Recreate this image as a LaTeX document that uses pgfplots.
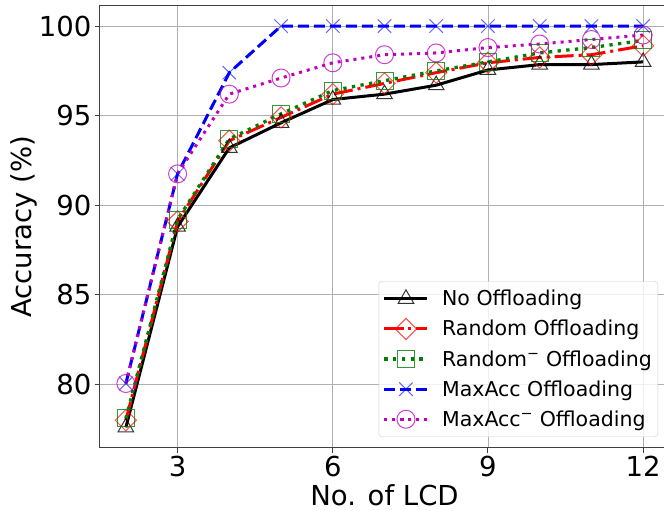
\documentclass[border=0pt]{standalone}
\usepackage{fontspec}
\setmainfont{DejaVu Sans}
\usepackage{pgfplots}
\pgfplotsset{compat=1.18}
\definecolor{mplgreen}{RGB}{0,128,0}
\definecolor{mplmag}{RGB}{191,0,191}
\definecolor{gridgray}{RGB}{176,176,176}

\begin{document}
\begin{tikzpicture}
\begin{axis}[
scale only axis,
width=569pt, height=442pt,
xmin=1.5, xmax=12.5,
ymin=76.45, ymax=101.12,
xtick={3,6,9,12},
ytick={80,85,90,95,100},
grid=major,
grid style={color=gridgray, line width=0.9pt},
axis line style={black!75, line width=1pt},
tick style={black!75, line width=1pt},
major tick length=5pt,
tick align=outside,
xtick pos=bottom, ytick pos=left,
/pgf/number format/assume math mode=true,
ticklabel style={font=\fontsize{27.5}{30}\selectfont},
xlabel={No. of LCD},
ylabel={Accuracy (\%)},
label style={font=\fontsize{27.5}{30}\selectfont},
xlabel style={at={(axis description cs:0.5,-0.129)}, anchor=base},
ylabel style={at={(axis description cs:-0.1195,0.5)}, anchor=base},
legend style={at={(axis description cs:0.9807,0.0249)}, anchor=south east,
  draw=black!20, rounded corners=3pt, fill=white, fill opacity=0.8, text opacity=1,
  font=\fontsize{20.5}{24}\selectfont, inner xsep=4pt, inner ysep=7pt,
  row sep=9pt, column sep=11pt},
legend cell align=left,
legend image code/.code={\draw[mark repeat=2,mark phase=2,#1] plot coordinates {(0pt,0pt) (21.5pt,0pt) (43pt,0pt)};},
]
\addplot[black, line width=3pt, mark=triangle, mark size=9pt,
  mark options={solid, line width=1pt, draw opacity=0.8}]
coordinates {(2,77.6) (3,88.8) (4,93.2) (5,94.6) (6,95.9) (7,96.2) (8,96.7) (9,97.55) (10,97.85) (11,97.85) (12,98.0)};
\addplot[red, line width=3pt, dash pattern=on 19pt off 5pt on 3pt off 5pt, mark=square, mark size=7.5pt,
  mark options={solid, rotate=45, line width=1pt, draw opacity=0.7}]
coordinates {(2,78.0) (3,89.1) (4,93.6) (5,94.9) (6,96.2) (7,96.8) (8,97.4) (9,97.95) (10,98.25) (11,98.4) (12,98.9)};
\addplot[mplgreen, line width=3.3pt, dash pattern=on 3.3pt off 5.4pt, mark=square, mark size=8.5pt,
  mark options={solid, line width=1pt, draw opacity=0.8}]
coordinates {(2,78.1) (3,89.2) (4,93.7) (5,95.1) (6,96.4) (7,96.95) (8,97.5) (9,98.0) (10,98.5) (11,98.8) (12,99.2)};
\addplot[blue, line width=3pt, dash pattern=on 11pt off 5pt, mark=x, mark size=9.5pt,
  mark options={solid, line width=1pt, draw opacity=0.6}]
coordinates {(2,80.05) (3,91.75) (4,97.4) (5,100) (6,100) (7,100) (8,100) (9,100) (10,100) (11,100) (12,100)};
\addplot[mplmag, line width=3pt, dash pattern=on 3pt off 5pt, mark=o, mark size=9pt,
  mark options={solid, line width=1pt, draw opacity=0.75}]
coordinates {(2,80.05) (3,91.75) (4,96.2) (5,97.1) (6,97.95) (7,98.4) (8,98.5) (9,98.8) (10,99.0) (11,99.25) (12,99.5)};
\legend{No Offloading, Random Offloading, Random\textsuperscript{−} Offloading, MaxAcc Offloading, MaxAcc\textsuperscript{−} Offloading}
\end{axis}
\pgfresetboundingbox
\path[use as bounding box] ([xshift=-100pt,yshift=-63pt]current axis.south west) rectangle ([xshift=-5pt,yshift=6pt]current axis.north east);
\end{tikzpicture}
\end{document}
